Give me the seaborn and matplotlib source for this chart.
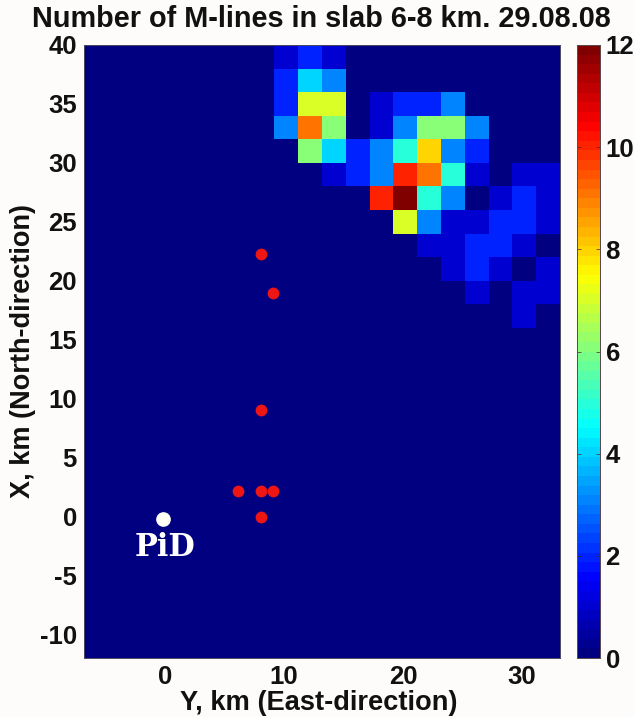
import numpy as np
import seaborn as sns
import matplotlib.pyplot as plt
from matplotlib.colors import LinearSegmentedColormap

# number of M-lines per 2x2 km cell, rows start at the top (X = 40 km)
y_edges_left = -6.8
x_top = 40
cell = 2
row0 = [0]*8 + [1, 2, 1, 0, 0, 0, 0, 0, 0, 0, 0, 0]
row1 = [0]*8 + [2, 4, 3, 0, 0, 0, 0, 0, 0, 0, 0, 0]
row2 = [0]*8 + [2, 7, 7, 0, 1, 2, 2, 3, 0, 0, 0, 0]
row3 = [0]*8 + [3, 9, 6, 0, 1, 3, 6, 6, 3, 0, 0, 0]
row4 = [0]*8 + [0, 6, 4, 2, 3, 5, 8, 3, 2, 0, 0, 0]
row5 = [0]*8 + [0, 0, 1, 2, 3, 10, 9, 5, 1, 0, 1, 1]
row6 = [0]*8 + [0, 0, 0, 0, 10, 12, 5, 3, 0, 1, 2, 1]
row7 = [0]*8 + [0, 0, 0, 0, 0, 7, 3, 1, 1, 2, 2, 1]
row8 = [0]*8 + [0, 0, 0, 0, 0, 0, 1, 1, 2, 2, 1, 0]
row9 = [0]*8 + [0, 0, 0, 0, 0, 0, 0, 1, 2, 1, 0, 1]
row10 = [0]*8 + [0, 0, 0, 0, 0, 0, 0, 0, 1, 0, 1, 1]
row11 = [0]*8 + [0, 0, 0, 0, 0, 0, 0, 0, 0, 0, 1, 0]
empty_rows = 14

red_y = [8.1, 9.1, 8.1, 6.1, 8.1, 9.1, 8.1]
red_x = [22.3, 19, 9, 2.2, 2.2, 2.2, 0]
pid_y = -0.2
pid_x = -0.2

x_ticks = [0, 10, 20, 30]
y_ticks = [40, 35, 30, 25, 20, 15, 10, 5, 0, -5, -10]
cbar_ticks = [0, 2, 4, 6, 8, 10, 12]

rows = [row0, row1, row2, row3, row4, row5, row6, row7, row8, row9, row10, row11]
counts = np.array(rows + [[0]*20]*empty_rows)

plt.rcParams['font.family'] = ['Liberation Sans', 'DejaVu Sans']
plt.rcParams['font.weight'] = 'bold'

# MATLAB flavour of jet, 64 levels
matlab_jet = LinearSegmentedColormap('matlab_jet', {
    'red': [(0, 0, 0), (.375, 0, 0), (.625, 1, 1), (.875, 1, 1), (1, .5, .5)],
    'green': [(0, 0, 0), (.125, 0, 0), (.375, 1, 1), (.625, 1, 1), (.875, 0, 0), (1, 0, 0)],
    'blue': [(0, .5, .5), (.125, 1, 1), (.375, 1, 1), (.625, 0, 0), (1, 0, 0)],
}, N=64)

W, H = 634, 717
bg = '#fdfcfa'
ink = '#111111'
fig = plt.figure(figsize=(W/100, H/100), dpi=100, facecolor=bg)
ax = fig.add_axes([84/W, 1-658/H, 476/W, 613/H])
cax = fig.add_axes([577/W, 1-658/H, 23/W, 613/H])


# heatmap works in cell units, so convert km to cell positions
def to_col(v):
    return (np.asarray(v) - y_edges_left) / cell


def to_row(v):
    return (x_top - np.asarray(v)) / cell


sns.heatmap(counts, ax=ax, cmap=matlab_jet, vmin=0, vmax=12, cbar_ax=cax,
            xticklabels=False, yticklabels=False)

ax.scatter(to_col(red_y), to_row(red_x), s=72, color='#ee1515', linewidths=0, zorder=3)
ax.scatter(to_col(pid_y), to_row(pid_x), s=112, color='#fdfdf5', linewidths=0, zorder=3)
ax.text(to_col(0), to_row(-2.6), 'PiD', color='white', fontsize=22, ha='center', va='center',
        family='DejaVu Serif', fontweight='bold')

ax.set_xticks(to_col(x_ticks))
ax.set_xticklabels(x_ticks, fontsize=18.5, color=ink)
ax.set_yticks(to_row(y_ticks))
ax.set_yticklabels(['%d' % v for v in y_ticks], fontsize=18.5, rotation=0, color=ink)
ax.tick_params(length=0)
ax.tick_params(axis='x', pad=5)
ax.tick_params(axis='y', pad=5)
ax.set_xlabel('Y, km (East-direction)', fontsize=19.6, color=ink, fontweight='bold')
ax.set_ylabel('X, km (North-direction)', fontsize=19.5, color=ink, fontweight='bold')
ax.xaxis.set_label_coords((319-84)/476, -(703-658)/613, transform=ax.transAxes)
ax.xaxis.label.set_va('center')
ax.yaxis.set_label_coords((23-84)/476, (658-351)/613, transform=ax.transAxes)
ax.yaxis.label.set_va('center')
fig.text(321/W, 1-19/H, 'Number of M-lines in slab 6-8 km. 29.08.08', fontsize=20.8,
         ha='center', va='center', color=ink, fontweight='bold')

for spine in ax.spines.values():
    spine.set_visible(True)
    spine.set_linewidth(0.7)
    spine.set_color('#4a4a60')

cax.set_yticks(cbar_ticks)
cax.set_yticklabels(cbar_ticks, fontsize=18.5, color=ink)
cax.tick_params(length=3, width=0.5, direction='in', color='#552222', left=True, right=True, pad=4)
for spine in cax.spines.values():
    spine.set_visible(True)
    spine.set_linewidth(0.7)
    spine.set_color('#5a4a50')

fig.savefig('out.png', dpi=100, facecolor=bg)
